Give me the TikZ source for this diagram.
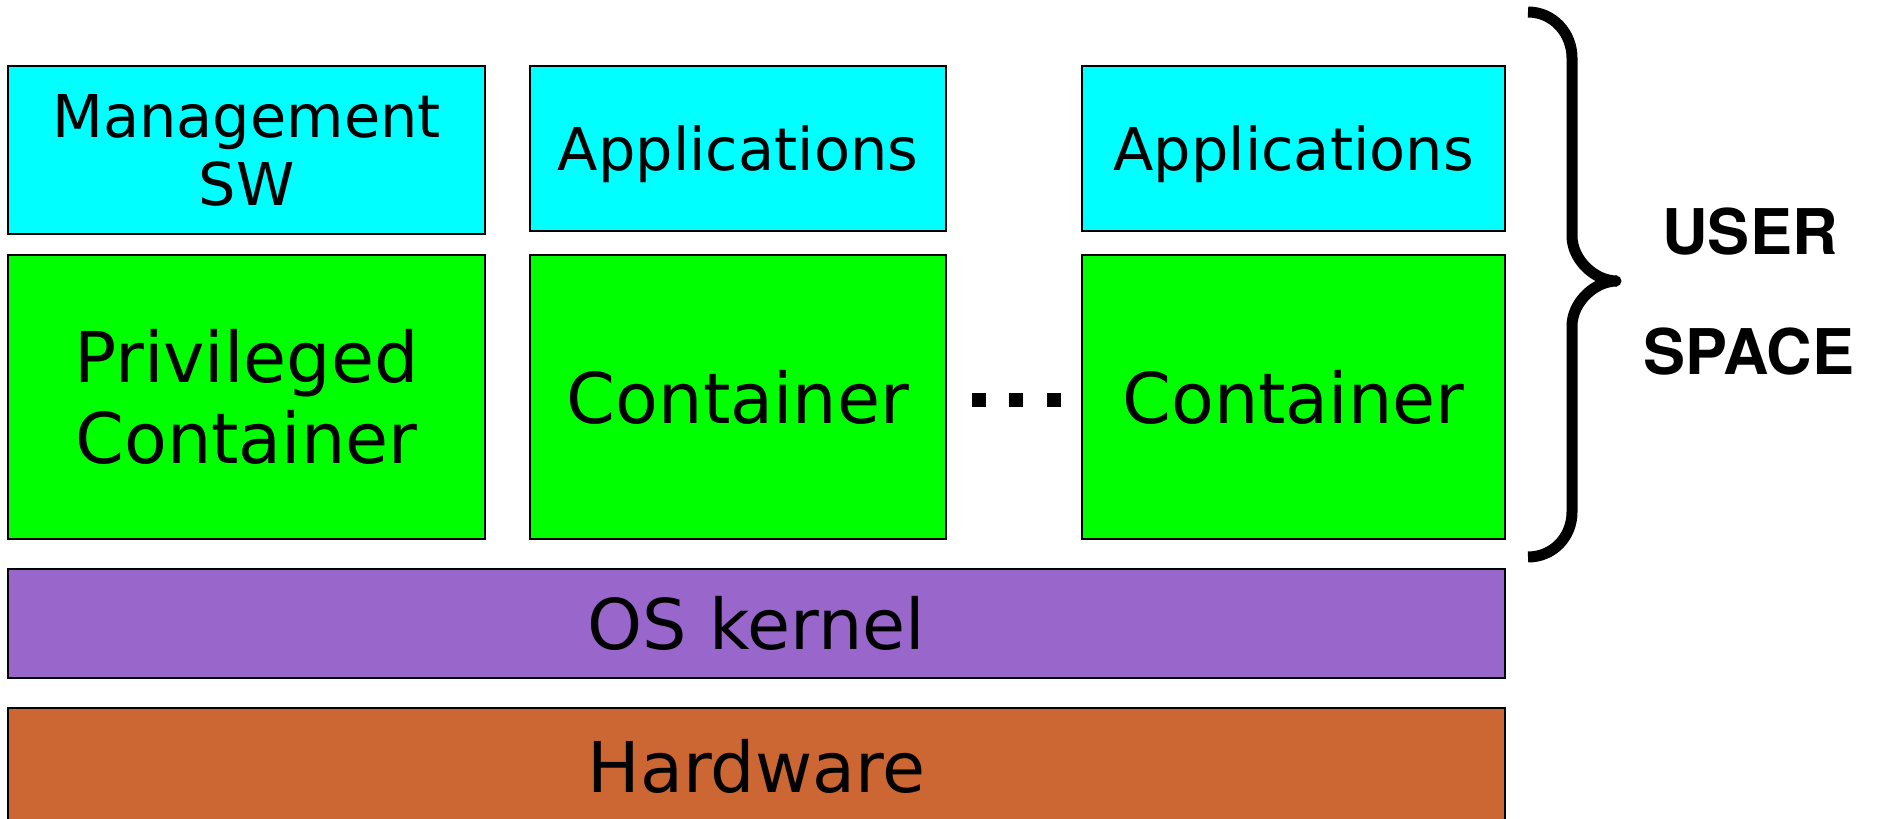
\documentclass[tikz,border=0pt]{standalone}
\usepackage{fontspec}
\newfontfamily\dejavu{DejaVu Sans}
\newfontfamily\heros{TeX Gyre Heros}
\definecolor{appcyan}{HTML}{00FFFF}
\definecolor{contgreen}{HTML}{00FF00}
\definecolor{kernpurple}{HTML}{9966CC}
\definecolor{hworange}{HTML}{CC6633}
\tikzset{
  box/.style={draw=black, line width=1.5pt, inner sep=0pt, align=center, anchor=center},
  topbox/.style={box, fill=appcyan, font={\dejavu\fontsize{59}{68}\selectfont}},
  contbox/.style={box, fill=contgreen, minimum width=416pt, minimum height=284pt, font={\dejavu\fontsize{70}{81}\selectfont}},
  layerbox/.style={box, minimum width=1497pt, font={\dejavu\fontsize{70}{81}\selectfont}},
  bracelabel/.style={inner sep=0pt, anchor=base, font={\heros\bfseries\fontsize{63}{70}\selectfont}}
}
\begin{document}
\begin{tikzpicture}[x=1pt,y=-1pt]
\useasboundingbox (0,0) rectangle (1877,819);
\begin{scope}
\clip (0,0) rectangle (1877,819);
% top row
\node[topbox, minimum width=477pt, minimum height=168pt] (mgmt) at (246.5,150) {Management\\SW};
\node[topbox, text depth=0pt, minimum width=416pt, minimum height=165pt] (app1) at (738,148.5) {Applications};
\node[topbox, text depth=0pt, minimum width=423pt, minimum height=165pt] (app2) at (1293.5,148.5) {Applications};
% containers
\node[contbox, minimum width=477pt] (priv) at (246.5,397) {Privileged\\Container};
\node[contbox] (cont1) at (738,397) {Container};
\node[contbox, minimum width=423pt] (cont2) at (1293.5,397) {Container};
% dots
\fill (972,393) rectangle (986,407);
\fill (1009,393) rectangle (1023,407);
\fill (1047,393) rectangle (1061,407);
% layers
\node[layerbox, fill=kernpurple, minimum height=109pt] (os) at (756.5,623.5) {OS kernel};
\node[layerbox, fill=hworange, minimum height=116pt] (hw) at (756.5,766) {Hardware};
\end{scope}
% brace
\draw[line width=11pt, line cap=butt]
  (1528,12) .. controls (1553,12) and (1572,33) .. (1572,58)
  -- (1572,236) .. controls (1572,259) and (1594,281) .. (1617,281)
  .. controls (1594,281) and (1572,303) .. (1572,326)
  -- (1572,512) .. controls (1572,537) and (1553,557) .. (1528,557);
\fill (1616,281) circle (5.5pt);
\node[bracelabel] (user) at (1750,254) {USER};
\node[bracelabel] (space) at (1749,374) {SPACE};
\end{tikzpicture}
\end{document}
